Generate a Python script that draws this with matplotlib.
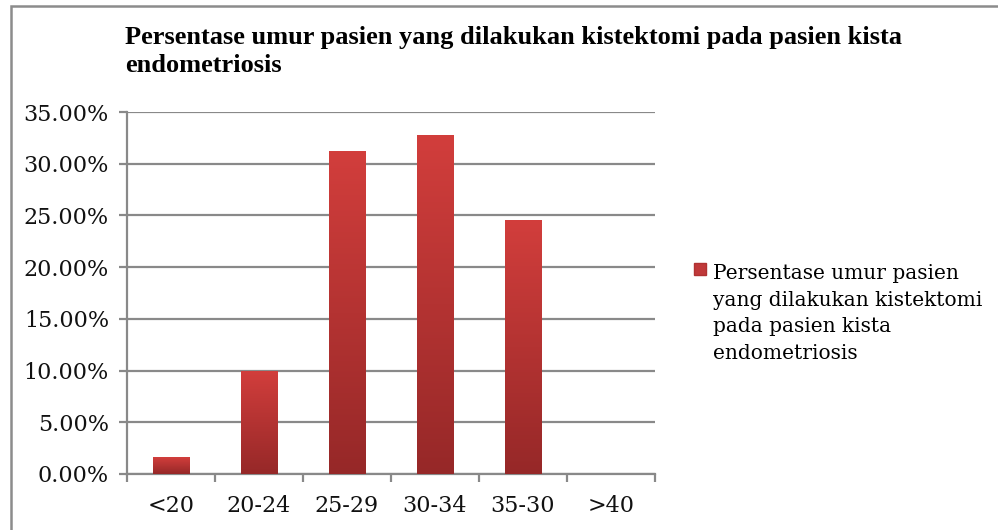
import numpy as np
import matplotlib
matplotlib.use("Agg")
import matplotlib.pyplot as plt
from matplotlib.ticker import PercentFormatter, FixedLocator
from matplotlib.colors import LinearSegmentedColormap
from matplotlib.patches import Rectangle
from matplotlib.legend_handler import HandlerPatch

categories = ["<20", "20-24", "25-29", "30-34", "35-30", ">40"]
values = [1.64, 10.0, 31.2, 32.8, 24.6, 0.0]
series_name = "Persentase umur pasien\nyang dilakukan kistektomi\npada pasien kista\nendometriosis"
title = "Persentase umur pasien yang dilakukan kistektomi pada pasien kista\nendometriosis"

serif = ["DejaVu Serif"]
title_font = ["Liberation Serif", "DejaVu Serif"]
grid_col = "#898989"
bar_col = "#c0393a"
LEG_SIZE = 14.5
LEG_SPACING = 1.5

fig = plt.figure(figsize=(9.98, 5.30), dpi=100)
ax = fig.add_axes([127 / 998, 1 - 474 / 530, 528 / 998, 362 / 530])

x = np.arange(len(categories))
bars = ax.bar(x, values, width=0.42, color=bar_col, zorder=3)

# vertical gradient on each bar, lighter at the top
cmap = LinearSegmentedColormap.from_list("bar", ["#962828", "#d23e3c"])
grad = np.linspace(0, 1, 256).reshape(-1, 1)
for b in bars:
    h = b.get_height()
    if h <= 0:
        continue
    x0 = b.get_x()
    im = ax.imshow(grad, cmap=cmap, origin="lower", aspect="auto",
                   extent=[x0, x0 + b.get_width(), 0, h], zorder=4)
    im.set_clip_path(b)

ax.set_xlim(-0.5, len(categories) - 0.5)
ax.set_ylim(0, 35)
ax.yaxis.set_major_locator(FixedLocator(np.arange(0, 36, 5)))
ax.yaxis.set_major_formatter(PercentFormatter(xmax=100, decimals=2))
ax.grid(axis="y", color=grid_col, linewidth=1.6, zorder=0)

ax.set_xticks(x)
ax.set_xticklabels(categories)
ax.set_xticks(np.arange(-0.5, len(categories)), minor=True)
ax.tick_params(axis="x", which="major", length=0, pad=15)
ax.tick_params(axis="x", which="minor", length=6, width=1.6, color=grid_col)
ax.tick_params(axis="y", length=6, width=1.6, color=grid_col, pad=7)
for lab in ax.get_xticklabels() + ax.get_yticklabels():
    lab.set_fontfamily(serif)
    lab.set_fontsize(16)
    lab.set_color("#111111")

for side in ["top", "right"]:
    ax.spines[side].set_visible(False)
for side in ["left", "bottom"]:
    ax.spines[side].set_color(grid_col)
    ax.spines[side].set_linewidth(1.6)

fig.text(125 / 998, 1 - 26 / 530, title, family=title_font, fontsize=19,
         fontweight="bold", va="top", ha="left", linespacing=1.3)


# legend key sits beside the first line of the label, not its middle
def top_square(legend, orig_handle, xdescent, ydescent, width, height, fontsize):
    s = 0.6 * fontsize
    pitch = 0.89 * LEG_SPACING * fontsize
    yc = 3 * pitch + 0.42 * fontsize - 27
    return Rectangle((-xdescent + width - s, yc - s / 2), s, s)


leg_handle = Rectangle((0, 0), 1, 1, facecolor=bar_col, edgecolor="#b03232")
leg = fig.legend([leg_handle], [series_name], loc="upper left",
                 bbox_to_anchor=(676 / 998, 1 - 246 / 530), frameon=False,
                 prop={"family": serif, "size": LEG_SIZE},
                 handlelength=0.6, handletextpad=0.35,
                 handler_map={Rectangle: HandlerPatch(patch_func=top_square)})
for t in leg.get_texts():
    t.set_linespacing(LEG_SPACING)

# chart area border
fig.patches.append(Rectangle((11 / 998, -0.1), 1.2, 1 - 5.5 / 530 + 0.1,
                             transform=fig.transFigure, fill=False,
                             edgecolor="#8c8c8c", linewidth=1.8))

fig.savefig("out.png", dpi=100)
